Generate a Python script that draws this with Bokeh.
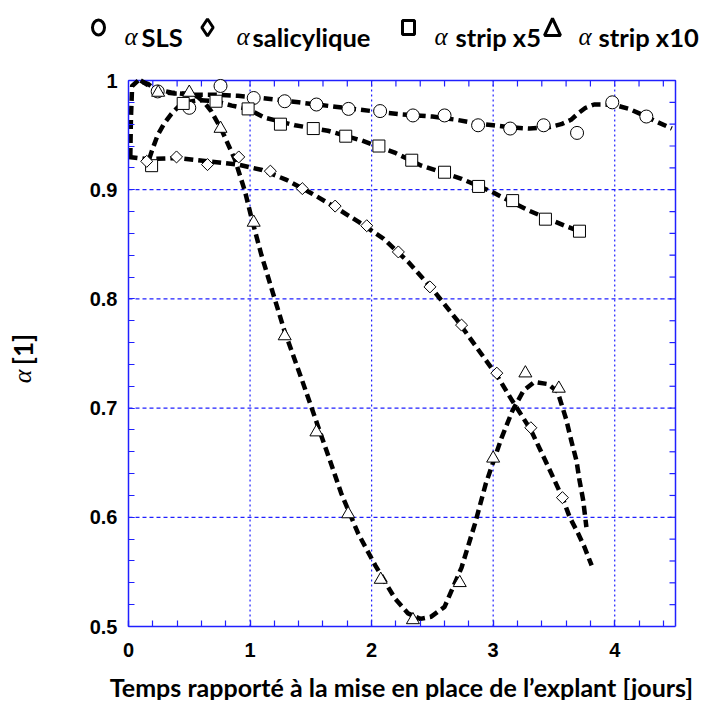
import math
from bokeh.plotting import figure
from bokeh.models import Range1d, FixedTicker, Label
from bokeh.embed import file_html
from bokeh.resources import INLINE

# ---------------- data ----------------
# measured points
sls_t = [0.24, 0.50, 0.757, 1.03, 1.285, 1.546, 1.81, 2.07, 2.34, 2.60, 2.876, 3.14, 3.415, 3.69, 3.98, 4.26]
sls_a = [0.990, 0.975, 0.995, 0.984, 0.981, 0.978, 0.974, 0.972, 0.968, 0.968, 0.959, 0.956, 0.959, 0.952, 0.980, 0.967]

sal_t = [0.15, 0.395, 0.65, 0.907, 1.167, 1.43, 1.70, 1.96, 2.22, 2.48, 2.74, 3.03, 3.31, 3.57]
sal_a = [0.926, 0.930, 0.923, 0.930, 0.917, 0.901, 0.885, 0.867, 0.843, 0.811, 0.776, 0.732, 0.682, 0.618]

x5_t = [0.19, 0.45, 0.72, 0.984, 1.25, 1.52, 1.787, 2.06, 2.33, 2.60, 2.88, 3.16, 3.43, 3.71]
x5_a = [0.922, 0.979, 0.981, 0.974, 0.960, 0.956, 0.949, 0.940, 0.927, 0.916, 0.903, 0.890, 0.873, 0.862]

x10_t = [0.244, 0.50, 0.757, 1.03, 1.285, 1.546, 1.807, 2.075, 2.34, 2.725, 3.0, 3.265, 3.54]
x10_a = [0.989, 0.989, 0.956, 0.870, 0.766, 0.678, 0.603, 0.543, 0.506, 0.540, 0.654, 0.732, 0.718]

# fitted (dashed) curves, read point by point
sls_fit_t = [0.10, 0.20, 0.35, 0.50, 0.70, 0.90, 1.10, 1.40, 1.70, 2.00, 2.25, 2.50, 2.70, 2.85, 3.00,
             3.15, 3.30, 3.45, 3.56, 3.64, 3.70, 3.76, 3.83, 3.92, 4.02, 4.12, 4.22, 4.33, 4.47]
sls_fit_a = [1.000, 0.993, 0.989, 0.987, 0.987, 0.986, 0.984, 0.980, 0.976, 0.972, 0.969, 0.967, 0.964, 0.961, 0.959,
             0.957, 0.956, 0.957, 0.960, 0.964, 0.970, 0.975, 0.978, 0.978, 0.977, 0.974, 0.969, 0.963, 0.956]

sal_fit_t = [0.00, 0.15, 0.40, 0.65, 0.90, 1.10, 1.30, 1.50, 1.70, 1.90, 2.10, 2.30, 2.50, 2.70, 2.90,
             3.03, 3.15, 3.31, 3.45, 3.57, 3.63, 3.70, 3.75, 3.81]
sal_fit_a = [0.930, 0.928, 0.929, 0.926, 0.923, 0.918, 0.909, 0.897, 0.884, 0.870, 0.855, 0.834, 0.809, 0.781, 0.750,
             0.730, 0.708, 0.680, 0.647, 0.618, 0.600, 0.585, 0.573, 0.556]

x5_fit_t = [0.17, 0.20, 0.24, 0.29, 0.35, 0.41, 0.47, 0.58, 0.72, 0.85, 0.98, 1.12, 1.37, 1.64, 1.92,
            2.19, 2.41, 2.74, 2.99, 3.29, 3.59, 3.71]
x5_fit_a = [0.928, 0.938, 0.950, 0.960, 0.969, 0.976, 0.980, 0.982, 0.981, 0.977, 0.974, 0.966, 0.959, 0.954, 0.945,
            0.934, 0.922, 0.910, 0.898, 0.881, 0.867, 0.862]

x10_fit_t = [0.015, 0.02, 0.03, 0.08, 0.16, 0.24, 0.38, 0.50, 0.57, 0.63, 0.68, 0.765, 0.874, 0.957, 1.01,
             1.094, 1.20, 1.285, 1.42, 1.56, 1.67, 1.75, 1.89, 2.03, 2.19, 2.30, 2.40, 2.49, 2.60, 2.74,
             2.85, 2.94, 3.07, 3.16, 3.25, 3.34, 3.45, 3.53, 3.60, 3.643, 3.685, 3.71, 3.74, 3.767]
x10_fit_a = [0.930, 0.965, 0.995, 1.000, 0.997, 0.990, 0.988, 0.988, 0.985, 0.979, 0.972, 0.955, 0.928, 0.899, 0.875,
             0.840, 0.801, 0.770, 0.728, 0.683, 0.648, 0.622, 0.585, 0.556, 0.526, 0.512, 0.507, 0.509, 0.518, 0.554,
             0.594, 0.631, 0.673, 0.698, 0.716, 0.724, 0.722, 0.715, 0.690, 0.670, 0.652, 0.634, 0.616, 0.591]

x_ticks = [0, 1, 2, 3, 4]
x_tick_labels = ["0", "1", "2", "3", "4"]
y_ticks = [0.5, 0.6, 0.7, 0.8, 0.9, 1.0]
y_tick_labels = ["0.5", "0.6", "0.7", "0.8", "0.9", "1"]
x_minor = [round(i * 0.2, 2) for i in range(23)]
y_minor = [round(0.5 + i * 0.02, 3) for i in range(26)]

legend_names = ["SLS", "salicylique", "strip x5", "strip x10"]
x_title = "Temps rapporté à la mise en place de l’explant [jours]"
y_title = "[1]"

# ---------------- styling ----------------
BLUE = "#2020ff"
TICK_FONT = "Liberation Sans"
TEXT_FONT = "Lato"
GREEK_FONT = "Liberation Serif"

X0, X1, Y0, Y1 = 0.0, 4.5, 0.5, 1.0
FR_L, FR_R, FR_T, FR_B = 128, 675, 80, 626   # plot box in picture pixels
W, H = 700, 700
px_x = (X1 - X0) / (FR_R - FR_L)
px_y = (Y1 - Y0) / (FR_B - FR_T)


def dx(px):
    return X0 + (px - FR_L) * px_x


def dy(py):
    return Y0 + (FR_B - py) * px_y


# the frame covers the whole canvas; the data box sits where the reference has it
p = figure(width=W, height=H, x_range=Range1d(dx(0), dx(W)), y_range=Range1d(dy(H), dy(0)),
           output_backend="svg", toolbar_location=None, min_border=0)
p.background_fill_color = "white"
p.border_fill_color = "white"
p.outline_line_color = None
p.xgrid.visible = False
p.ygrid.visible = False

xt = FixedTicker(ticks=x_ticks, minor_ticks=x_minor)
yt = FixedTicker(ticks=y_ticks, minor_ticks=y_minor)

bottom_ax = p.below[0]
left_ax = p.left[0]
bottom_ax.ticker = xt
left_ax.ticker = yt
bottom_ax.fixed_location = Y0
left_ax.fixed_location = X0
bottom_ax.bounds = (X0, X1)
left_ax.bounds = (Y0, Y1)
bottom_ax.major_label_overrides = {float(t): l for t, l in zip(x_ticks, x_tick_labels)}
left_ax.major_label_overrides = {float(t): l for t, l in zip(y_ticks, y_tick_labels)}

TICK_LEN = 6
for ax in [bottom_ax, left_ax]:
    ax.axis_line_color = BLUE
    ax.axis_line_width = 1.5
    ax.major_tick_line_color = BLUE
    ax.minor_tick_line_color = BLUE
    ax.major_tick_in = TICK_LEN
    ax.major_tick_out = 0
    ax.minor_tick_in = TICK_LEN
    ax.minor_tick_out = 0
    ax.major_tick_line_width = 1.2
    ax.minor_tick_line_width = 1.2
    ax.major_label_text_font = TICK_FONT
    ax.major_label_text_font_style = "bold"
    ax.major_label_text_font_size = "20px"
    ax.major_label_text_color = "black"
bottom_ax.major_label_standoff = 16
left_ax.major_label_standoff = 11

# grid lines
gx = [t for t in x_ticks if X0 < t < X1]
gy = [t for t in y_ticks if Y0 < t < Y1]
p.segment(x0=gx, y0=[Y0] * len(gx), x1=gx, y1=[Y1] * len(gx),
          line_color=BLUE, line_width=1.2, line_dash="2 3")
p.segment(x0=[X0] * len(gy), y0=gy, x1=[X1] * len(gy), y1=gy,
          line_color=BLUE, line_width=1.2, line_dash="4 3")

# top and right edges of the box, with inward ticks
p.line(x=[X0, X1, X1], y=[Y1, Y1, Y0], line_color=BLUE, line_width=1.5)
top_t = [t for t in sorted(set(x_minor) | set(x_ticks)) if X0 < t < X1]
p.segment(x0=top_t, y0=[Y1] * len(top_t), x1=top_t, y1=[Y1 - TICK_LEN * px_y] * len(top_t),
          line_color=BLUE, line_width=1.2)
right_t = [t for t in sorted(set(y_minor) | set(y_ticks)) if Y0 < t < Y1]
p.segment(x0=[X1] * len(right_t), y0=right_t, x1=[X1 - TICK_LEN * px_x] * len(right_t), y1=right_t,
          line_color=BLUE, line_width=1.2)

# fitted curves
dash_kw = dict(line_color="black", line_width=4.5, line_dash="9 5", line_cap="butt", line_join="round")
p.line(sls_fit_t, sls_fit_a, **dash_kw)
p.line(x5_fit_t, x5_fit_a, **dash_kw)
p.line(sal_fit_t, sal_fit_a, **dash_kw)
p.line(x10_fit_t, x10_fit_a, **dash_kw)

# measured points
mk = dict(fill_color="white", line_color="black", line_width=1)
p.scatter(sls_t, sls_a, marker="circle", size=13, **mk)
p.scatter(x5_t, x5_a, marker="square", size=12, **mk)
p.scatter(sal_t, sal_a, marker="square", size=8.5, angle=math.pi / 4, **mk)
p.scatter(x10_t, x10_a, marker="triangle", size=13, **mk)

# axis titles
p.add_layout(Label(x=dx(401), y=dy(686), text=x_title, text_align="center",
                   text_baseline="alphabetic", text_font=TEXT_FONT, text_font_style="bold",
                   text_font_size="25px", text_color="black"))
p.add_layout(Label(x=dx(22), y=dy(349), text=y_title, angle=math.pi / 2, text_align="center",
                   text_baseline="middle", text_font=TEXT_FONT, text_font_style="bold",
                   text_font_size="26px", text_color="black"))
p.add_layout(Label(x=dx(22), y=dy(376), text="α", angle=math.pi / 2, text_align="center",
                   text_baseline="middle", text_font=GREEK_FONT, text_font_style="italic",
                   text_font_size="26px", text_color="black"))

# legend row above the box
sym = dict(fill_color=None, line_color="black", line_width=3)
p.ellipse(x=dx(98), y=dy(27), width=12, height=15, width_units="screen", height_units="screen", **sym)
p.scatter(x=dx(207), y=dy(27), marker="diamond", size=17, **sym)
p.rect(x=dx(408), y=dy(27), width=12, height=14, width_units="screen", height_units="screen", **sym)
p.patch(x=[dx(544), dx(552), dx(560)], y=[dy(35), dy(18), dy(35)], **sym)

base_y = dy(36)
alpha_x = [124, 236, 434, 578]
name_x = [141, 252, 455, 598]
for ax_, nx, name in zip(alpha_x, name_x, legend_names):
    p.add_layout(Label(x=dx(ax_), y=base_y, text="α", text_align="left", text_baseline="alphabetic",
                       text_font=GREEK_FONT, text_font_style="italic", text_font_size="25px",
                       text_color="black"))
    p.add_layout(Label(x=dx(nx), y=base_y, text=name, text_align="left", text_baseline="alphabetic",
                       text_font=TEXT_FONT, text_font_style="bold", text_font_size="25.5px",
                       text_color="black"))

open("out.html", "w").write(file_html(p, INLINE))
